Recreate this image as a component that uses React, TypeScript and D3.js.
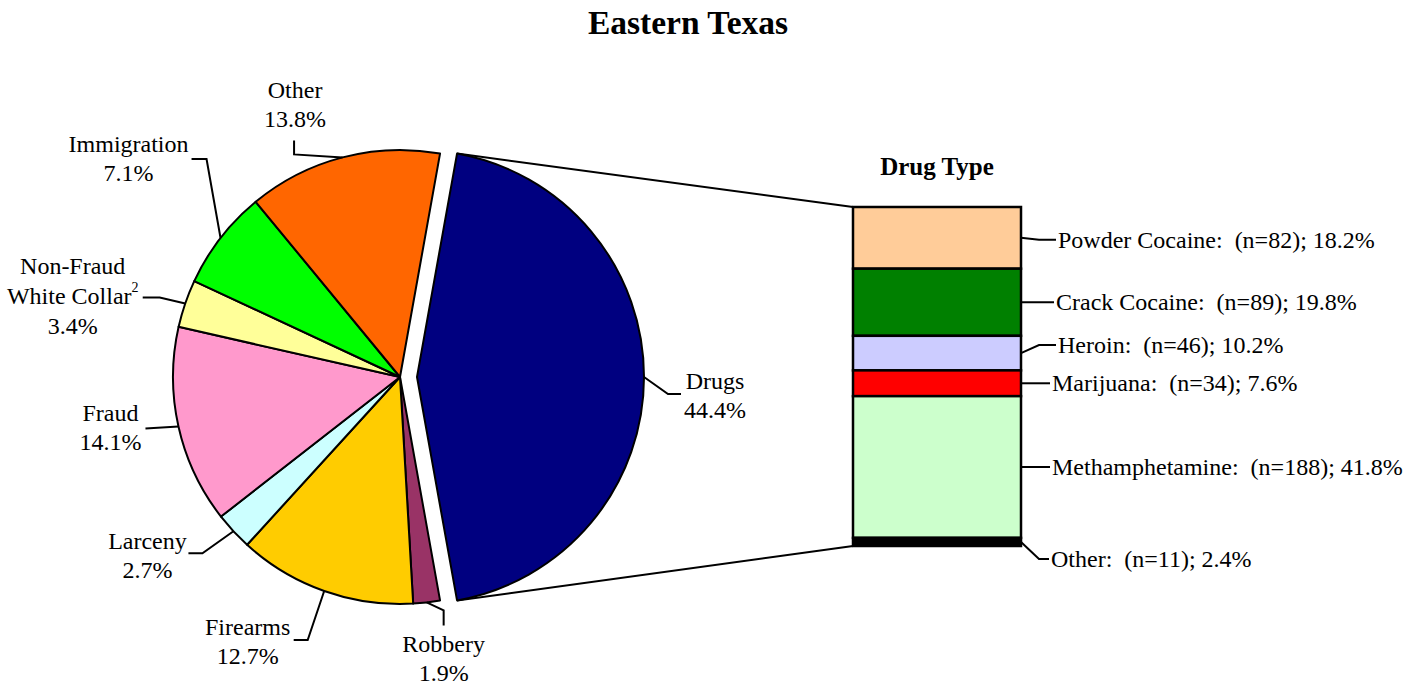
import React from 'react'
import * as d3 from 'd3'

// offense shares (percent of all offenders)
const offenseNames = ['Drugs', 'Robbery', 'Firearms', 'Larceny', 'Fraud', 'Non-Fraud|White Collar', 'Immigration', 'Other']
const offenseShares = [44.4, 1.9, 12.7, 2.7, 14.1, 3.4, 7.1, 13.8]
const offenseNotes = ['', '', '', '', '', '2', '', '']
const offenseColors = ['#000080', '#993366', '#FFCC00', '#CCFFFF', '#FF99CC', '#FFFF99', '#00FF00', '#FF6600']

// drug breakdown
const drugTypes = ['Powder Cocaine', 'Crack Cocaine', 'Heroin', 'Marijuana', 'Methamphetamine', 'Other']
const drugCounts = [82, 89, 46, 34, 188, 11]
const drugShares = [18.2, 19.8, 10.2, 7.6, 41.8, 2.4]
const drugColors = ['#FFCC99', '#008000', '#CCCCFF', '#FF0000', '#CCFFCC', '#000000']

// hand placed labels, offsets from the leader's anchor on the arc
const pieLabelLayout = [
  { leader: [[24, 17], [37, 17]], text: [71, 4] },
  { leader: [[17, 8], [17, 23]], text: [17, 42] },
  { leader: [[-16.5, 49], [-30.5, 49]], text: [-76.5, 36] },
  { leader: [[-31, 22], [-45, 22]], text: [-86, 10] },
  { leader: [[-33, 2]], text: [-68, -13] },
  { leader: [[-25.5, -6], [-42.5, -6]], text: [-112.5, -38] },
  { leader: [[-14, -79], [-29, -79]], text: [-92, -94] },
  { leader: [[-48.5, -3], [-48.5, -17]], text: [-47.5, -67] },
]
const barLabelShift = [2, 0, -8, 0, 0, 17]
const barLabelDx = [3, 1, 3, -3, -3, -4]

const W = 1416
const H = 686
const cx = 400
const cy = 377
const R = 227
const explode = 17
const font = '"Liberation Serif", "Times New Roman", serif'
const lineGap = 29
const fs = 24

export default function App() {
  const total = d3.sum(offenseShares)
  const a0 = Math.PI / 2 - (offenseShares[0] / total) * Math.PI
  const pie = d3.pie<number>().sort(null).startAngle(a0).endAngle(a0 + 2 * Math.PI)
  const arcs = pie(offenseShares)
  const arcGen = d3.arc<d3.PieArcDatum<number>>().innerRadius(0).outerRadius(R)

  const bar = { x0: 853, x1: 1021 }
  const y = d3.scaleLinear().domain([0, d3.sum(drugShares)]).range([207, 546])
  const cum = d3.cumsum(drugShares)
  const starts = cum.map((c, i) => c - drugShares[i])

  const drugArc = arcs[0]
  const dMid = (drugArc.startAngle + drugArc.endAngle) / 2
  const dcx = cx + explode * Math.sin(dMid)
  const dcy = cy - explode * Math.cos(dMid)
  const pt = (ox: number, oy: number, a: number, r: number) => [ox + r * Math.sin(a), oy - r * Math.cos(a)]
  const top = pt(dcx, dcy, drugArc.startAngle, R)
  const bot = pt(dcx, dcy, drugArc.endAngle, R)

  return (
    <svg width={W} height={H} style={{ display: 'block', position: 'absolute', left: 0, top: 0, background: '#fff' }} fontFamily={font}>
      <text x={688} y={22} textAnchor="middle" dominantBaseline="central" fontSize={33.5} fontWeight="bold">Eastern Texas</text>

      {/* connector lines */}
      <line x1={top[0]} y1={top[1]} x2={bar.x0} y2={y(0)} stroke="#000" strokeWidth={2} />
      <line x1={bot[0]} y1={bot[1]} x2={bar.x0} y2={y(d3.sum(drugShares))} stroke="#000" strokeWidth={2} />

      {arcs.map((a, i) => {
        const ox = i === 0 ? dcx : cx
        const oy = i === 0 ? dcy : cy
        return (
          <path key={i} d={arcGen(a) || ''} transform={`translate(${ox},${oy})`} fill={offenseColors[i]} stroke="#000" strokeWidth={2} strokeLinejoin="round" />
        )
      })}

      {arcs.map((a, i) => {
        const mid = (a.startAngle + a.endAngle) / 2
        const ox = i === 0 ? dcx : cx
        const oy = i === 0 ? dcy : cy
        const [ax, ay] = pt(ox, oy, mid, R)
        const lay = pieLabelLayout[i]
        const pts = [[ax, ay], ...lay.leader.map(([dx, dy]) => [ax + dx, ay + dy])]
        const lines = offenseNames[i].split('|')
        const tx = ax + lay.text[0]
        const ty = ay + lay.text[1]
        const gap = lines.length > 1 ? 30 : lineGap
        return (
          <g key={'l' + i}>
            <polyline points={pts.map((p) => p.join(',')).join(' ')} fill="none" stroke="#000" strokeWidth={2} />
            {lines.map((ln, j) => (
              <text key={j} x={tx} y={ty + j * gap} textAnchor="middle" dominantBaseline="central" fontSize={fs}>
                {ln}
                {j === lines.length - 1 && offenseNotes[i] ? (
                  <tspan fontSize={14} dy={-9}>{offenseNotes[i]}</tspan>
                ) : null}
              </text>
            ))}
            <text x={tx} y={ty + lines.length * gap} textAnchor="middle" dominantBaseline="central" fontSize={fs}>
              {offenseShares[i].toFixed(1)}%
            </text>
          </g>
        )
      })}

      <text x={937} y={166} textAnchor="middle" dominantBaseline="central" fontSize={25} fontWeight="bold">Drug Type</text>

      {drugTypes.map((d, i) => (
        <rect key={d} x={bar.x0} y={y(starts[i])} width={bar.x1 - bar.x0} height={y(cum[i]) - y(starts[i])} fill={drugColors[i]} stroke="#000" strokeWidth={2.5} />
      ))}

      {drugTypes.map((d, i) => {
        const my = (y(starts[i]) + y(cum[i])) / 2
        const ly = my + barLabelShift[i]
        const ex = bar.x1 + 32 + barLabelDx[i]
        const pts = [[bar.x1, my], [bar.x1 + 18, ly], [ex, ly]]
        return (
          <g key={'b' + d}>
            <polyline points={pts.map((p) => p.join(',')).join(' ')} fill="none" stroke="#000" strokeWidth={2} />
            <text x={ex + 2} y={ly} dominantBaseline="central" fontSize={fs} style={{ whiteSpace: 'pre' }}>
              {`${d}:  (n=${drugCounts[i]}); ${drugShares[i].toFixed(1)}%`}
            </text>
          </g>
        )
      })}
    </svg>
  )
}
